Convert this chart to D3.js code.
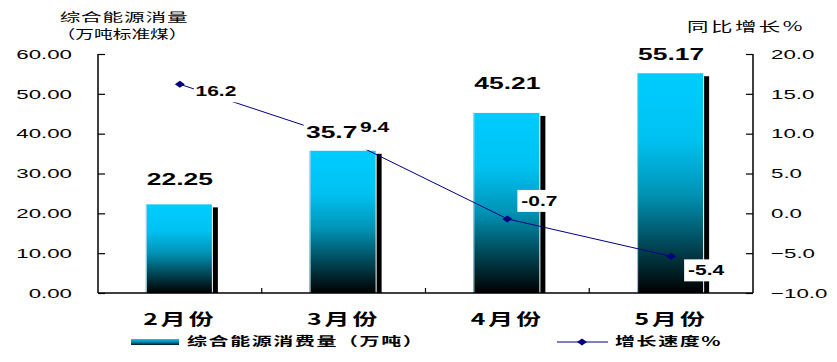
<!DOCTYPE html>
<html>
<head>
<meta charset="utf-8">
<script src="https://cdn.jsdelivr.net/npm/d3@7"></script>
<style>
  body { margin: 0; background: #fff; }
  svg { display: block; }
</style>
</head>
<body>
<svg width="837" height="362"></svg>
<script>
// data
var months = ["2月份", "3月份", "4月份", "5月份"];
var energy = [22.25, 35.7, 45.21, 55.17];
var growth = [16.2, 9.4, -0.7, -5.4];
var leftTicks = [0, 10, 20, 30, 40, 50, 60];
var rightTicks = [-10, -5, 0, 5, 10, 15, 20];

// label nudges (picture layout, not data)
var barLabelDy = [19, 13, 24, 13];
var barLabelDx = [0, -12, 0, 0];
var lineLabelOff = [[36, 7], [31, -11], [32, -18], [35, 14]];

var SX = 1.6; // the source picture is stretched sideways
var numFont = "'Liberation Sans', Arial, sans-serif";
var cjkFont = "'Noto Sans CJK SC', sans-serif";

var svg = d3.select("svg");
var plotL = 98, plotR = 753, plotT = 54, plotB = 293;

var x = d3.scaleBand().domain(months).range([plotL, plotR]).padding(0);
var y = d3.scaleLinear().domain([0, 60]).range([plotB, plotT]);
var y2 = d3.scaleLinear().domain([-10, 20]).range([plotB, plotT]);

var defs = svg.append("defs");
var grad = defs.append("linearGradient").attr("id", "barGrad")
    .attr("x1", 0).attr("y1", 0).attr("x2", 0).attr("y2", 1);
[[0, "#00ccff"], [0.3, "#00c2f2"], [0.55, "#0093b5"], [0.8, "#00414f"], [1, "#000000"]]
    .forEach(function (s) {
        grad.append("stop").attr("offset", s[0]).attr("stop-color", s[1]);
    });

function label(g, px, py, txt, o) {
    o = o || {};
    return g.append("text")
        .attr("transform", "translate(" + px + "," + py + ") scale(" + (o.sx || SX) + ",1)")
        .attr("text-anchor", o.anchor || "middle")
        .attr("dy", o.dy || "0.35em")
        .style("font-family", o.font || numFont)
        .style("font-size", (o.size || 13.5) + "px")
        .style("font-weight", o.weight || "normal")
        .style("letter-spacing", o.ls || null)
        .attr("fill", o.fill || "#000")
        .text(txt);
}

var barW = 66;
function barX(i) { return x(months[i]) + x.bandwidth() / 2 - barW / 2 - 1; }

// shadows
svg.append("g").selectAll("rect").data(energy).enter().append("rect")
    .attr("x", function (d, i) { return barX(i) + barW + 1; })
    .attr("y", function (d) { return y(d) + 3; })
    .attr("width", 5)
    .attr("height", function (d) { return plotB - y(d) - 3; })
    .attr("fill", "#000");

// bars
svg.append("g").selectAll("rect").data(energy).enter().append("rect")
    .attr("x", function (d, i) { return barX(i); })
    .attr("y", function (d) { return y(d); })
    .attr("width", barW)
    .attr("height", function (d) { return plotB - y(d); })
    .attr("fill", "url(#barGrad)");
svg.append("g").selectAll("line").data(energy).enter().append("line")
    .attr("x1", function (d, i) { return barX(i) + 0.5; })
    .attr("x2", function (d, i) { return barX(i) + 0.5; })
    .attr("y1", function (d) { return y(d); })
    .attr("y2", plotB)
    .attr("stroke", "#9fd9e6").attr("stroke-width", 1);

// growth line
var cx = function (i) { return x(months[i]) + x.bandwidth() / 2; };
svg.append("path")
    .datum(growth)
    .attr("d", d3.line().x(function (d, i) { return cx(i); }).y(function (d) { return y2(d); }))
    .attr("fill", "none").attr("stroke", "#000080").attr("stroke-width", 1);

function diamond(g, px, py) {
    g.append("path")
        .attr("d", "M" + (px - 5) + "," + py + "L" + px + "," + (py - 3.5) + "L" + (px + 5) + "," + py + "L" + px + "," + (py + 3.5) + "Z")
        .attr("fill", "#000080");
}
var mk = svg.append("g");
growth.forEach(function (d, i) { diamond(mk, cx(i), y2(d)); });

// white box behind the 3rd month label hides the line there
var bl = svg.append("g");
bl.append("rect").attr("x", cx(1) - 40).attr("y", y(energy[1]) - barLabelDy[1] - 17)
    .attr("width", 68).attr("height", barLabelDy[1] + 16).attr("fill", "#fff");

// growth labels
var gl = svg.append("g");
growth.forEach(function (d, i) {
    var px = cx(i) + lineLabelOff[i][0], py = y2(d) + lineLabelOff[i][1];
    var w = i === 1 ? 30 : 44;
    gl.append("rect").attr("x", px - w / 2).attr("y", py - 11).attr("width", w).attr("height", 22)
        .attr("fill", "#fff");
    label(gl, px, py, d.toFixed(1), { size: 14, weight: "bold", sx: 1.5 });
});

// bar value labels
energy.forEach(function (d, i) {
    label(bl, cx(i) + barLabelDx[i], y(d) - barLabelDy[i] - 6, String(d), { size: 16.5, weight: "bold" });
});

// axes
var ax = svg.append("g").attr("transform", "translate(" + plotL + ",0)")
    .call(d3.axisLeft(y).tickValues(leftTicks).tickSize(-7).tickFormat(""));
var ax2 = svg.append("g").attr("transform", "translate(" + plotR + ",0)")
    .call(d3.axisRight(y2).tickValues(rightTicks).tickSize(-7).tickFormat(""));
[ax, ax2].forEach(function (a) {
    a.select(".domain").attr("stroke", "#000").attr("stroke-width", 1.5)
        .attr("d", "M0," + plotT + "V" + plotB);
    a.selectAll(".tick line").attr("stroke", "#000").attr("stroke-width", 1.2);
});

svg.append("line").attr("x1", plotL).attr("x2", plotR).attr("y1", plotB).attr("y2", plotB)
    .attr("stroke", "#000").attr("stroke-width", 1.5);
var cticks = svg.append("g");
d3.range(1, months.length).forEach(function (i) {
    cticks.append("line").attr("x1", x(months[i])).attr("x2", x(months[i]))
        .attr("y1", plotB - 5).attr("y2", plotB).attr("stroke", "#000").attr("stroke-width", 1.2);
});

var tl = svg.append("g");
leftTicks.forEach(function (t) {
    label(tl, 72, y(t), d3.format(".2f")(t), { anchor: "end", sx: 1.65 });
});
rightTicks.forEach(function (t) {
    label(tl, 771, y2(t), d3.format(".1f")(t), { anchor: "start", sx: 1.65 });
});

// month labels
months.forEach(function (m, i) {
    label(tl, cx(i), 319, m, { font: cjkFont, size: 16, weight: "bold", sx: 1.55, ls: "2px" });
});

// titles
label(svg, 124, 18, "综合能源消量", { font: cjkFont, size: 12.5, sx: 1.65, ls: "0.5px" });
label(svg, 122, 35, "（万吨标准煤）", { font: cjkFont, size: 12.5, sx: 1.5 });
label(svg, 746, 26, "同比增长%", { font: cjkFont, size: 13, sx: 1.65, ls: "1.5px" });

// legend
var lg = defs.append("linearGradient").attr("id", "legGrad")
    .attr("x1", 0).attr("y1", 0).attr("x2", 0).attr("y2", 1);
[[0, "#00ccff"], [0.5, "#0088aa"], [1, "#001820"]].forEach(function (s) {
    lg.append("stop").attr("offset", s[0]).attr("stop-color", s[1]);
});
svg.append("rect").attr("x", 131).attr("y", 339).attr("width", 48).attr("height", 6)
    .attr("fill", "url(#legGrad)");
label(svg, 187, 342, "综合能源消费量（万吨）", { font: cjkFont, size: 12.5, weight: "bold", anchor: "start", sx: 1.6, ls: "1px" });

svg.append("line").attr("x1", 557).attr("x2", 608).attr("y1", 342).attr("y2", 342)
    .attr("stroke", "#000080").attr("stroke-width", 1.2);
diamond(svg, 582, 342);
label(svg, 615, 342, "增长速度%", { font: cjkFont, size: 12.5, weight: "bold", anchor: "start", sx: 1.6, ls: "1px" });
</script>
</body>
</html>
